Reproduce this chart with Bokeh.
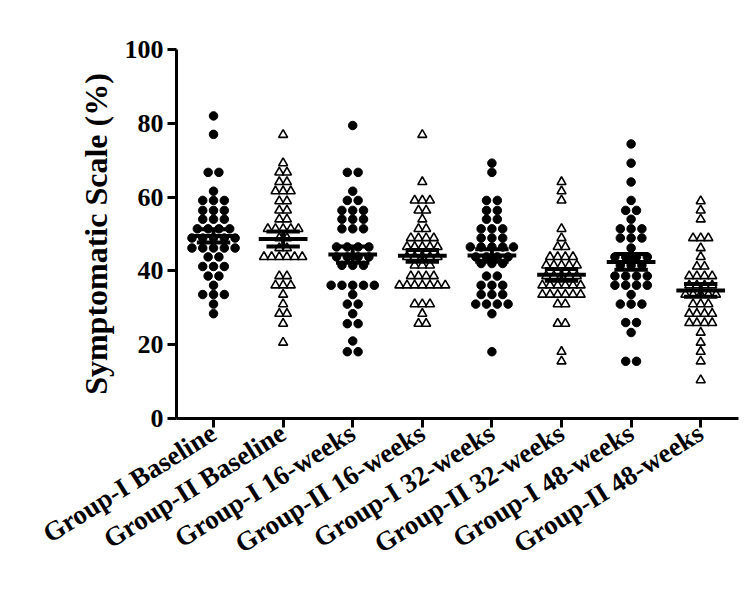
import numpy as np
from bokeh.plotting import figure
from bokeh.models import Range1d, FixedTicker
from bokeh.embed import file_html
from bokeh.resources import INLINE

categories = ["Group-I Baseline", "Group-II Baseline", "Group-I 16-weeks", "Group-II 16-weeks",
              "Group-I 32-weeks", "Group-II 32-weeks", "Group-I 48-weeks", "Group-II 48-weeks"]

g1_base = [82.0, 77.0, 66.7, 66.7, 61.6, 59.1, 59.1, 59.1, 56.4, 56.4, 56.4, 54.0, 54.0, 54.0,
           51.4, 51.4, 51.4, 51.4, 48.9, 48.9, 48.9, 48.9, 48.9, 46.2, 46.2, 46.2, 46.2, 46.2,
           43.8, 43.8, 41.2, 41.2, 41.2, 38.6, 38.6, 36.1, 33.6, 33.6, 33.6, 31.0, 28.4]
g2_base = [76.9, 69.2, 66.7, 66.7, 64.1, 64.1, 61.6, 61.6, 61.6, 58.9, 58.9, 56.4, 56.4, 54.0,
           54.0, 51.4, 51.4, 51.4, 51.4, 51.4, 48.9, 48.9, 46.2, 46.2, 43.8, 43.8, 43.8, 43.8,
           43.8, 43.8, 38.6, 38.6, 36.1, 36.1, 36.1, 33.6, 31.0, 28.4, 28.4, 25.7, 20.6]
g1_16 = [79.4, 66.7, 66.7, 61.6, 59.1, 59.1, 56.4, 56.4, 56.4, 54.0, 54.0, 54.0, 51.4, 51.4,
         51.4, 46.5, 46.5, 46.5, 46.5, 43.8, 43.8, 43.8, 43.8, 41.5, 41.5, 41.5, 36.1, 36.1,
         36.1, 36.1, 36.1, 33.6, 31.0, 31.0, 28.4, 25.7, 25.7, 21.0, 18.1, 18.1]
g2_16 = [76.9, 64.1, 59.1, 59.1, 59.1, 56.4, 56.4, 54.0, 51.4, 51.4, 48.9, 48.9, 48.9, 48.9,
         46.5, 46.5, 46.5, 46.5, 46.5, 43.8, 43.8, 43.8, 43.8, 43.8, 41.5, 41.5, 41.5, 38.6,
         38.6, 38.6, 38.6, 36.1, 36.1, 36.1, 36.1, 36.1, 36.1, 36.1, 31.0, 31.0, 31.0, 28.4,
         25.7, 25.7]
g1_32 = [69.2, 66.7, 59.1, 59.1, 56.4, 56.4, 54.0, 54.0, 51.4, 51.4, 51.4, 48.9, 48.9, 48.9,
         46.5, 46.5, 46.5, 46.5, 46.5, 43.8, 43.8, 43.8, 43.8, 42.0, 42.0, 42.0, 38.6, 38.6,
         36.1, 36.1, 36.1, 33.6, 33.6, 33.6, 31.0, 31.0, 31.0, 31.0, 28.4, 18.1]
g2_32 = [64.1, 61.6, 59.1, 51.4, 48.9, 46.5, 46.5, 43.8, 43.8, 43.8, 43.8, 41.5, 41.5, 41.5,
         41.5, 41.5, 38.6, 38.6, 38.6, 38.6, 38.6, 36.1, 36.1, 36.1, 36.1, 36.1, 36.1, 33.6,
         33.6, 33.6, 33.6, 33.6, 33.6, 31.0, 31.0, 25.7, 25.7, 18.1, 15.5]
g1_48 = [74.4, 69.2, 64.1, 59.1, 56.4, 56.4, 54.0, 51.4, 51.4, 51.4, 48.9, 48.9, 48.9, 46.2,
         43.8, 43.8, 43.8, 43.8, 41.5, 41.5, 41.5, 38.6, 38.6, 38.6, 38.6, 36.1, 36.1, 36.1,
         36.1, 33.6, 31.0, 31.0, 31.0, 26.0, 26.0, 23.3, 15.5, 15.5]
g2_48 = [58.9, 56.4, 54.0, 48.9, 48.9, 48.9, 46.2, 43.8, 41.2, 41.2, 38.6, 38.6, 38.6, 38.6,
         36.1, 36.1, 36.1, 36.1, 33.6, 33.6, 33.6, 33.6, 33.6, 31.0, 31.0, 31.0, 28.4, 28.4,
         28.4, 28.4, 25.9, 25.9, 25.9, 25.9, 23.3, 20.6, 18.1, 15.5, 10.4]

series = [g1_base, g2_base, g1_16, g2_16, g1_32, g2_32, g1_48, g2_48]
y_ticks = [0, 20, 40, 60, 80, 100]

FONT = "Liberation Serif"


def swarm(vals, center, dx, binw=2.55, origin=28.4):
    v = np.asarray(vals, dtype=float)
    bins = np.round((v - origin) / binw).astype(int)
    xs = np.zeros_like(v)
    for b in np.unique(bins):
        idx = np.where(bins == b)[0]
        k = len(idx)
        xs[idx] = center + (np.arange(k) - (k - 1) / 2.0) * dx
    return xs, v


p = figure(width=748, height=600, output_backend="svg", toolbar_location=None,
           x_range=Range1d(0.468, 8.543), y_range=Range1d(0, 100),
           min_border_left=176, min_border_right=10, min_border_top=49, min_border_bottom=182)
p.outline_line_color = None
p.xgrid.visible = False
p.ygrid.visible = False
p.background_fill_color = "white"

for i, vals in enumerate(series):
    c = i + 1
    if i % 2 == 0:
        xs, ys = swarm(vals, c, 0.155)
        p.scatter(xs, ys, marker="circle", size=8.5, fill_color="black", line_color="black")
    else:
        xs, ys = swarm(vals, c, 0.11)
        p.scatter(xs, ys, marker="triangle", size=9, fill_color="white",
                  line_color="black", line_width=1.6)
    arr = np.asarray(vals)
    m = arr.mean()
    sem = arr.std(ddof=1) / np.sqrt(len(arr))
    p.segment(x0=[c - 0.35], x1=[c + 0.35], y0=[m], y1=[m], line_color="black", line_width=4)
    p.segment(x0=[c], x1=[c], y0=[m - sem], y1=[m + sem], line_color="black", line_width=4)
    p.segment(x0=[c - 0.24, c - 0.24], x1=[c + 0.24, c + 0.24], y0=[m - sem, m + sem],
              y1=[m - sem, m + sem], line_color="black", line_width=4)

for ax in (p.xaxis[0], p.yaxis[0]):
    ax.axis_line_width = 3
    ax.major_tick_line_width = 3
    ax.major_tick_out = 9
    ax.major_tick_in = 0
    ax.minor_tick_line_color = None
    ax.major_label_text_font = FONT
    ax.major_label_text_font_style = "bold"
    ax.major_label_text_color = "black"
    ax.axis_line_color = "black"
    ax.major_tick_line_color = "black"

p.yaxis.ticker = FixedTicker(ticks=y_ticks)
p.yaxis.major_label_text_font_size = "26px"
p.yaxis.major_label_standoff = 4
p.yaxis.axis_label = "Symptomatic Scale (%)"
p.yaxis.axis_label_text_font = FONT
p.yaxis.axis_label_text_font_style = "bold"
p.yaxis.axis_label_text_font_size = "32px"
p.yaxis.axis_label_text_color = "black"
p.yaxis.axis_label_standoff = 8

p.xaxis.ticker = FixedTicker(ticks=list(range(1, len(categories) + 1)))
p.xaxis.major_label_overrides = {i + 1: cat for i, cat in enumerate(categories)}
p.xaxis.major_label_text_font_size = "27px"
p.xaxis.major_label_orientation = 0.56
p.xaxis.major_label_standoff = 3

open("out.html", "w").write(file_html(p, INLINE))
